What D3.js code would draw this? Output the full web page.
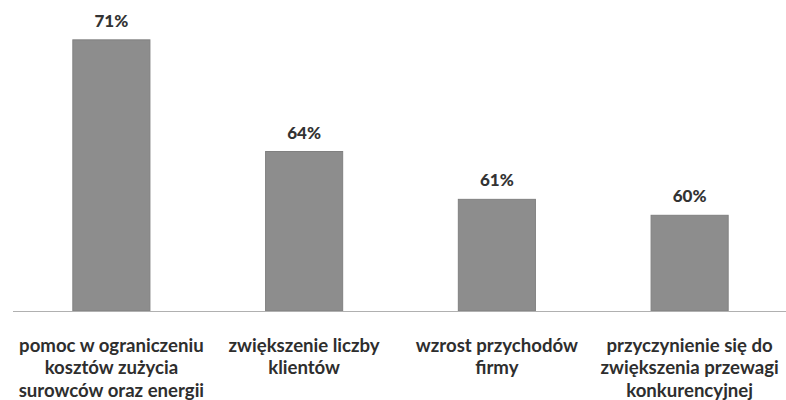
<!DOCTYPE html>
<html><head><meta charset="utf-8">
<script src="https://cdn.jsdelivr.net/npm/d3@7"></script>
<style>body{margin:0;background:#fff;}</style>
</head><body>
<svg id="c" width="786" height="400"></svg>
<script>
const categories = [
  ["pomoc w ograniczeniu", "kosztów zużycia", "surowców oraz energii"],
  ["zwiększenie liczby", "klientów"],
  ["wzrost przychodów", "firmy"],
  ["przyczynienie się do", "zwiększenia przewagi", "konkurencyjnej"]
];
const values = [71, 64, 61, 60];
const valueLabels = ["71%", "64%", "61%", "60%"];

const svg = d3.select("#c");
const font = "Lato, 'Open Sans', sans-serif";
const x = d3.scaleBand().domain(d3.range(values.length)).range([15, 786]).paddingInner(0.6).paddingOuter(0.3);
const y = d3.scaleLinear().domain([54, 72]).range([311, 311 - 18 * 15.95]);

svg.selectAll("rect.bar").data(values).join("rect").attr("class", "bar")
  .attr("x", (d, i) => x(i)).attr("width", x.bandwidth())
  .attr("y", d => y(d)).attr("height", d => y(54) - y(d))
  .attr("fill", "#8d8d8d").attr("stroke", "#808080").attr("stroke-width", 1);

svg.append("line").attr("x1", 13).attr("x2", 786).attr("y1", y(54) + 0.5).attr("y2", y(54) + 0.5)
  .attr("stroke", "#b0b0b0").attr("stroke-width", 1.2);

svg.selectAll("text.val").data(values).join("text").attr("class", "val")
  .attr("x", (d, i) => x(i) + x.bandwidth() / 2).attr("y", d => y(d) - 13)
  .attr("text-anchor", "middle").attr("font-family", font).attr("font-weight", 900)
  .attr("font-size", 17).attr("fill", "#333").text((d, i) => valueLabels[i]);

const cat = svg.selectAll("text.cat").data(categories).join("text").attr("class", "cat")
  .attr("text-anchor", "middle").attr("font-family", font).attr("font-weight", 700)
  .attr("font-size", 18.6).attr("fill", "#2e2e2e");
cat.each(function(lines, i) {
  d3.select(this).selectAll("tspan").data(lines).join("tspan")
    .attr("x", x(i) + x.bandwidth() / 2).attr("y", (l, j) => 351.5 + j * 22.5).text(l => l);
});
</script>
</body></html>
